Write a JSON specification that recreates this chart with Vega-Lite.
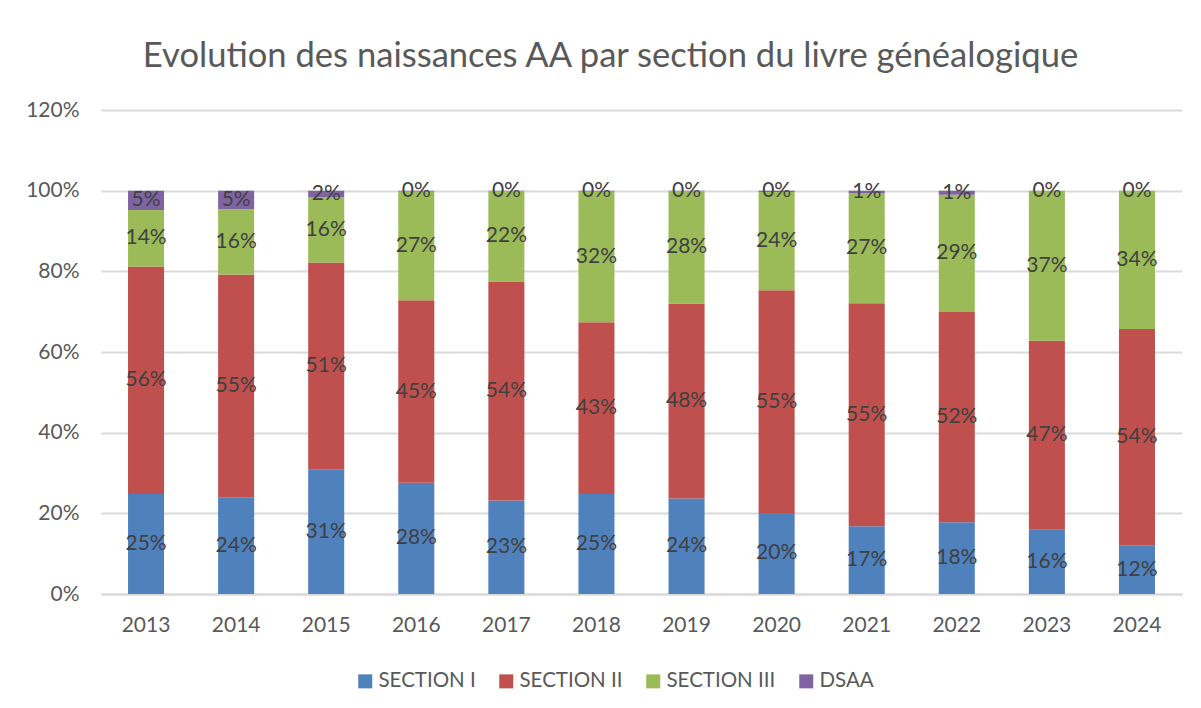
{
  "$schema": "https://vega.github.io/schema/vega-lite/v6.json",
  "autosize": "none",
  "width": 1081,
  "height": 484,
  "padding": {"left": 101, "top": 110, "right": 19, "bottom": 114},
  "background": "white",
  "title": {
    "text": "Evolution des naissances AA par section du livre généalogique",
    "font": "Lato",
    "fontSize": 34.6,
    "fontWeight": "normal",
    "color": "#595959",
    "anchor": "middle",
    "dx": -31,
    "offset": 24
  },
  "data": {
    "values": [
      {"year": "2013", "series": "SECTION I", "value": 0.248},
      {"year": "2013", "series": "SECTION II", "value": 0.564},
      {"year": "2013", "series": "SECTION III", "value": 0.140},
      {"year": "2013", "series": "DSAA", "value": 0.048},
      {"year": "2014", "series": "SECTION I", "value": 0.240},
      {"year": "2014", "series": "SECTION II", "value": 0.552},
      {"year": "2014", "series": "SECTION III", "value": 0.162},
      {"year": "2014", "series": "DSAA", "value": 0.046},
      {"year": "2015", "series": "SECTION I", "value": 0.308},
      {"year": "2015", "series": "SECTION II", "value": 0.514},
      {"year": "2015", "series": "SECTION III", "value": 0.162},
      {"year": "2015", "series": "DSAA", "value": 0.016},
      {"year": "2016", "series": "SECTION I", "value": 0.276},
      {"year": "2016", "series": "SECTION II", "value": 0.452},
      {"year": "2016", "series": "SECTION III", "value": 0.270},
      {"year": "2016", "series": "DSAA", "value": 0.002},
      {"year": "2017", "series": "SECTION I", "value": 0.232},
      {"year": "2017", "series": "SECTION II", "value": 0.543},
      {"year": "2017", "series": "SECTION III", "value": 0.224},
      {"year": "2017", "series": "DSAA", "value": 0.001},
      {"year": "2018", "series": "SECTION I", "value": 0.248},
      {"year": "2018", "series": "SECTION II", "value": 0.426},
      {"year": "2018", "series": "SECTION III", "value": 0.324},
      {"year": "2018", "series": "DSAA", "value": 0.002},
      {"year": "2019", "series": "SECTION I", "value": 0.237},
      {"year": "2019", "series": "SECTION II", "value": 0.483},
      {"year": "2019", "series": "SECTION III", "value": 0.279},
      {"year": "2019", "series": "DSAA", "value": 0.001},
      {"year": "2020", "series": "SECTION I", "value": 0.201},
      {"year": "2020", "series": "SECTION II", "value": 0.552},
      {"year": "2020", "series": "SECTION III", "value": 0.244},
      {"year": "2020", "series": "DSAA", "value": 0.003},
      {"year": "2021", "series": "SECTION I", "value": 0.168},
      {"year": "2021", "series": "SECTION II", "value": 0.553},
      {"year": "2021", "series": "SECTION III", "value": 0.273},
      {"year": "2021", "series": "DSAA", "value": 0.006},
      {"year": "2022", "series": "SECTION I", "value": 0.178},
      {"year": "2022", "series": "SECTION II", "value": 0.521},
      {"year": "2022", "series": "SECTION III", "value": 0.291},
      {"year": "2022", "series": "DSAA", "value": 0.010},
      {"year": "2023", "series": "SECTION I", "value": 0.159},
      {"year": "2023", "series": "SECTION II", "value": 0.469},
      {"year": "2023", "series": "SECTION III", "value": 0.372},
      {"year": "2023", "series": "DSAA", "value": 0.0},
      {"year": "2024", "series": "SECTION I", "value": 0.121},
      {"year": "2024", "series": "SECTION II", "value": 0.536},
      {"year": "2024", "series": "SECTION III", "value": 0.343},
      {"year": "2024", "series": "DSAA", "value": 0.0}
    ]
  },
  "transform": [
    {"calculate": "indexof(['SECTION I','SECTION II','SECTION III','DSAA'], datum.series)", "as": "rank"},
    {"stack": "value", "groupby": ["year"], "sort": [{"field": "rank", "order": "ascending"}], "as": ["v0", "v1"], "offset": "zero"},
    {"calculate": "(datum.v0 + datum.v1) / 2", "as": "mid"}
  ],
  "encoding": {
    "x": {
      "field": "year",
      "type": "ordinal",
      "title": null,
      "scale": {"paddingInner": 0.6, "paddingOuter": 0.3},
      "axis": {
        "labelAngle": 0,
        "labelFont": "Lato",
        "labelFontSize": 21,
        "labelColor": "#595959",
        "labelPadding": 20,
        "ticks": false,
        "domainColor": "#D9D9D9",
        "domainWidth": 2,
        "grid": false
      }
    }
  },
  "layer": [
    {
      "mark": {"type": "bar"},
      "encoding": {
        "y": {
          "field": "v0",
          "type": "quantitative",
          "title": null,
          "scale": {"domain": [0, 1.2], "nice": false},
          "axis": {
            "values": [0, 0.2, 0.4, 0.6, 0.8, 1.0, 1.2],
            "format": ".0%",
            "labelFont": "Lato",
            "labelFontSize": 21,
            "labelColor": "#595959",
            "labelPadding": 22,
            "ticks": false,
            "domain": false,
            "gridColor": "#D9D9D9",
            "gridWidth": 2
          }
        },
        "y2": {"field": "v1"},
        "color": {
          "field": "series",
          "type": "nominal",
          "scale": {
            "domain": ["SECTION I", "SECTION II", "SECTION III", "DSAA"],
            "range": ["#4F81BD", "#C0504D", "#9BBB59", "#8064A2"]
          },
          "legend": {
            "title": null,
            "orient": "none",
            "legendX": 254,
            "legendY": 561,
            "direction": "horizontal",
            "symbolType": "square",
            "symbolSize": 196,
            "symbolStrokeWidth": 0,
            "labelFont": "Lato",
            "labelFontSize": 20.5,
            "labelColor": "#595959",
            "labelOffset": 3,
            "columnPadding": 20
          }
        }
      }
    },
    {
      "mark": {"type": "text", "font": "Lato", "fontSize": 21, "color": "#404040", "baseline": "middle"},
      "encoding": {
        "y": {"field": "mid", "type": "quantitative"},
        "text": {"field": "value", "type": "quantitative", "format": ".0%"}
      }
    }
  ],
  "config": {
    "view": {"stroke": null}
  }
}
